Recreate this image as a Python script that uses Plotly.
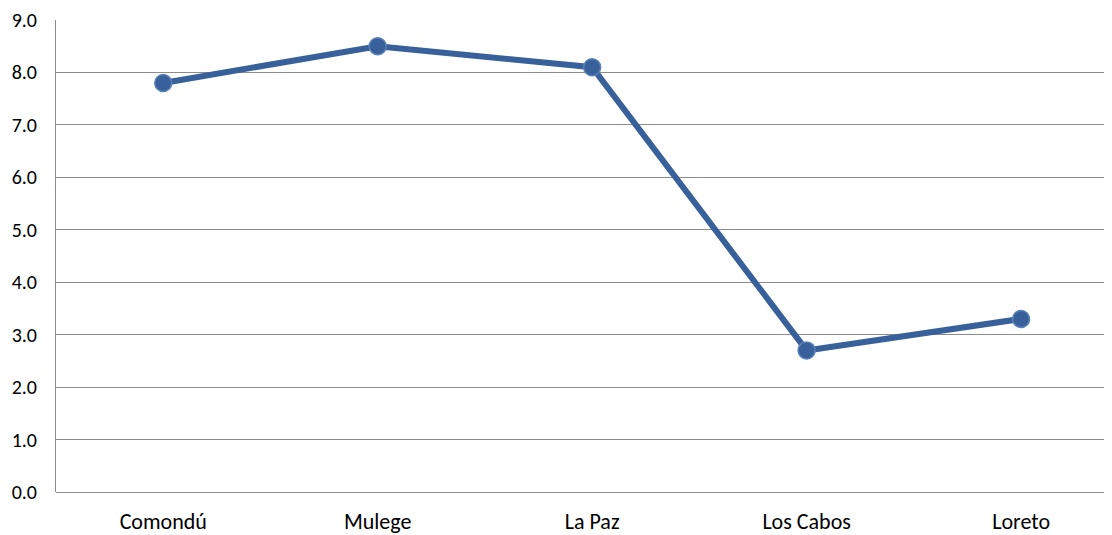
import plotly.graph_objects as go

categories = ["Comondú", "Mulege", "La Paz", "Los Cabos", "Loreto"]
values = [7.8, 8.5, 8.1, 2.7, 3.3]

fig = go.Figure()
fig.add_trace(go.Scatter(
    x=list(range(len(categories))), y=values, mode="lines+markers",
    line=dict(color="#38609A", width=6),
    marker=dict(size=17, color="#38609A", line=dict(color="#5A82B8", width=1.5)),
    hoverinfo="skip", showlegend=False,
))
fig.update_layout(
    width=1104, height=527,
    margin=dict(l=48, r=0, t=12, b=43),
    plot_bgcolor="white", paper_bgcolor="white",
    font=dict(family="Carlito, Calibri, Open Sans, sans-serif", color="black"),
)
fig.update_xaxes(
    range=[-0.5, 4.424], tickmode="array",
    tickvals=list(range(len(categories))), ticktext=categories,
    showgrid=False, showline=False, zeroline=False,
    tickfont=dict(size=22), ticklabelstandoff=14, ticks="",
)
fig.update_yaxes(
    range=[0, 9], dtick=1, tickformat=".1f",
    showgrid=True, gridcolor="#8C8C8C", gridwidth=1,
    showline=True, linecolor="#8C8C8C", linewidth=1,
    zeroline=True, zerolinecolor="#8C8C8C", zerolinewidth=1,
    tickfont=dict(size=20), ticklabelstandoff=14, ticks="",
)
fig.write_html("out.html")
